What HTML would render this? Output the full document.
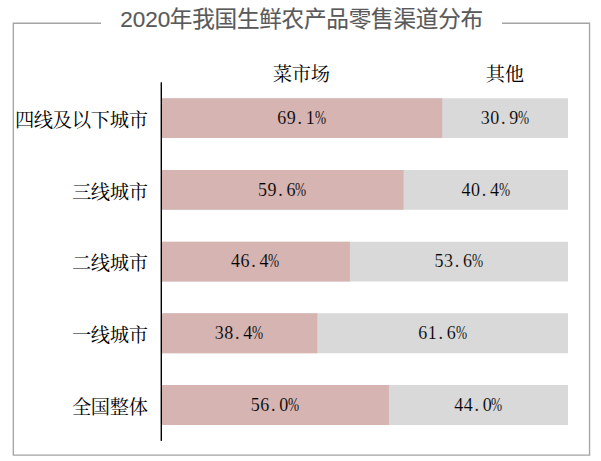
<!DOCTYPE html>
<html lang="zh-CN">
<head>
<meta charset="utf-8">
<title>2020年我国生鲜农产品零售渠道分布</title>
<style>
html,body{margin:0;padding:0;background:#fff;}
body{width:601px;height:461px;position:relative;overflow:hidden;font-family:"Liberation Sans",sans-serif;}
.chart{position:absolute;left:0;top:0;width:601px;height:461px;background:#fff;}
.glyphs{position:absolute;left:0;top:0;}
.n{position:absolute;font:18.0px/24px "Liberation Serif",serif;color:#000;white-space:nowrap;height:24px;transform:scaleY(1.08);transform-origin:0 18.07px;}
.np{-webkit-text-stroke:0.15px #d5b4b2;}
.ng{-webkit-text-stroke:0.15px #d9d9d9;}
.c{display:inline-block;width:9.5px;text-align:center;}
.c.d{text-align:left;text-indent:1.5px;}
.c.p i{display:inline-block;font-style:normal;position:relative;left:0.3px;transform:scaleX(0.74);transform-origin:50% 50%;margin:0 -4px;}
.sr{position:absolute;color:transparent;white-space:nowrap;overflow:hidden;font:19px/19px "Liberation Serif",serif;}
.ttl{font-family:"Liberation Sans","Noto Sans CJK SC",sans-serif;fill:#595959;stroke:#595959;stroke-width:0.15;}
.lbl{font-family:"Liberation Serif","Noto Serif CJK SC",serif;font-size:19.25px;letter-spacing:-0.25px;fill:#000;}
</style>
</head>
<body>
<div class="chart">

<svg class="glyphs" width="601" height="461" viewBox="0 0 601 461">
<path d="M101 23.25 H13.3 V455.15 H589.55 V23.25 H502" fill="none" stroke="#a4a4a4" stroke-width="1.35" stroke-linejoin="miter" stroke-linecap="butt"/>
<path d="M161.0 98.20H568.0V138.10H161.0z" fill="#d9d9d9"/>
<path d="M161.0 98.20H442.24V138.10H161.0z" fill="#d5b4b2"/>
<path d="M161.0 169.92H568.0V209.82H161.0z" fill="#d9d9d9"/>
<path d="M161.0 169.92H403.57V209.82H161.0z" fill="#d5b4b2"/>
<path d="M161.0 241.64H568.0V281.54H161.0z" fill="#d9d9d9"/>
<path d="M161.0 241.64H349.85V281.54H161.0z" fill="#d5b4b2"/>
<path d="M161.0 313.36H568.0V353.26H161.0z" fill="#d9d9d9"/>
<path d="M161.0 313.36H317.29V353.26H161.0z" fill="#d5b4b2"/>
<path d="M161.0 385.08H568.0V424.98H161.0z" fill="#d9d9d9"/>
<path d="M161.0 385.08H388.92V424.98H161.0z" fill="#d5b4b2"/>
<rect x="160.6" y="82.29" width="1.4" height="358.60" fill="#000"/>
<text class="ttl" x="120.2" y="27" font-size="22.5">2020</text>
<text class="ttl" x="169.8" y="26.8" font-size="22.6" letter-spacing="-0.23">年我国生鲜农产品零售渠道分布</text>
<text class="lbl" x="14.88" y="127.15">四线及以下城市</text>
<text class="lbl" x="71.88" y="199.15">三线城市</text>
<text class="lbl" x="71.88" y="270.15">二线城市</text>
<text class="lbl" x="71.88" y="342.15">一线城市</text>
<text class="lbl" x="71.88" y="414.15">全国整体</text>
<text class="lbl" x="272.82" y="80.7">菜市场</text>
<text class="lbl" x="485.82" y="80.7">其他</text>
</svg>
<div class="n np" style="left:277.07px;top:106.42px"><span class="c">6</span><span class="c">9</span><span class="c d">.</span><span class="c">1</span><span class="c p"><i>%</i></span></div>
<div class="n ng" style="left:480.57px;top:106.42px"><span class="c">3</span><span class="c">0</span><span class="c d">.</span><span class="c">9</span><span class="c p"><i>%</i></span></div>
<div class="n np" style="left:257.74px;top:178.43px"><span class="c">5</span><span class="c">9</span><span class="c d">.</span><span class="c">6</span><span class="c p"><i>%</i></span></div>
<div class="n ng" style="left:461.24px;top:178.43px"><span class="c">4</span><span class="c">0</span><span class="c d">.</span><span class="c">4</span><span class="c p"><i>%</i></span></div>
<div class="n np" style="left:230.87px;top:249.43px"><span class="c">4</span><span class="c">6</span><span class="c d">.</span><span class="c">4</span><span class="c p"><i>%</i></span></div>
<div class="n ng" style="left:434.37px;top:249.43px"><span class="c">5</span><span class="c">3</span><span class="c d">.</span><span class="c">6</span><span class="c p"><i>%</i></span></div>
<div class="n np" style="left:214.59px;top:321.43px"><span class="c">3</span><span class="c">8</span><span class="c d">.</span><span class="c">4</span><span class="c p"><i>%</i></span></div>
<div class="n ng" style="left:418.09px;top:321.43px"><span class="c">6</span><span class="c">1</span><span class="c d">.</span><span class="c">6</span><span class="c p"><i>%</i></span></div>
<div class="n np" style="left:250.41px;top:393.43px"><span class="c">5</span><span class="c">6</span><span class="c d">.</span><span class="c">0</span><span class="c p"><i>%</i></span></div>
<div class="n ng" style="left:453.91px;top:393.43px"><span class="c">4</span><span class="c">4</span><span class="c d">.</span><span class="c">0</span><span class="c p"><i>%</i></span></div>
<div class="sr" style="left:121px;top:6px;width:362px;height:24px;font:22px/24px &quot;Liberation Sans&quot;,sans-serif">2020年我国生鲜农产品零售渠道分布</div>
<div class="sr" style="left:15px;top:110.5px;width:133px;height:20px">四线及以下城市</div>
<div class="sr" style="left:72px;top:182.2px;width:76px;height:20px">三线城市</div>
<div class="sr" style="left:72px;top:253.9px;width:76px;height:20px">二线城市</div>
<div class="sr" style="left:72px;top:325.7px;width:76px;height:20px">一线城市</div>
<div class="sr" style="left:72px;top:397.4px;width:76px;height:20px">全国整体</div>
<div class="sr" style="left:273px;top:63.5px;width:57px;height:20px">菜市场</div>
<div class="sr" style="left:486px;top:63.5px;width:38px;height:20px">其他</div>
</div>
</body>
</html>
